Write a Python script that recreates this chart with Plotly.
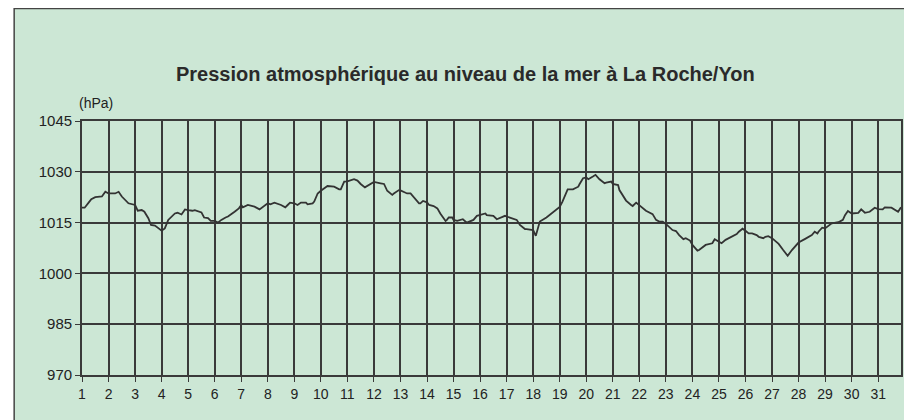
import plotly.graph_objects as go

# ---- data ----
days = [
    1.00, 1.10, 1.25, 1.35, 1.50, 1.72, 1.75, 1.88, 2.00, 2.25, 2.38, 2.50, 2.72, 2.75,
    3.00, 3.10, 3.25, 3.35, 3.50, 3.60, 3.75, 3.91, 4.00, 4.12, 4.25, 4.50, 4.60, 4.75, 4.88,
    5.00, 5.16, 5.25, 5.41, 5.50, 5.60, 5.75, 5.85, 6.00, 6.12, 6.25, 6.41, 6.50, 6.75, 6.91,
    7.00, 7.06, 7.25, 7.50, 7.69, 7.75, 8.00, 8.10, 8.25, 8.50, 8.66, 8.75, 8.84,
    9.00, 9.12, 9.25, 9.44, 9.50, 9.69, 9.75, 9.88, 10.00, 10.25, 10.50, 10.69, 10.75, 10.88,
    11.00, 11.25, 11.38, 11.50, 11.66, 11.75, 11.94, 12.00, 12.25, 12.38, 12.50, 12.69, 12.75, 12.94,
    13.00, 13.10, 13.25, 13.38, 13.50, 13.70, 13.75, 13.85, 14.00, 14.08, 14.25, 14.39, 14.50, 14.70,
    14.75, 14.82, 14.95, 15.00, 15.14, 15.25, 15.35, 15.50, 15.63, 15.75, 15.88, 16.00, 16.20, 16.25,
    16.50, 16.63, 16.75, 16.94, 17.00, 17.25, 17.38, 17.50, 17.69, 17.75, 17.95, 18.00, 18.10, 18.25,
    18.50, 18.75, 18.92, 19.00, 19.10, 19.30, 19.50, 19.70, 19.75, 19.88, 20.00, 20.08, 20.25, 20.35,
    20.50, 20.69, 20.75, 20.94, 21.00, 21.20, 21.25, 21.50, 21.69, 21.75, 21.88, 22.00, 22.25, 22.50,
    22.63, 22.75, 22.88, 23.00, 23.25, 23.38, 23.50, 23.66, 23.75, 23.91, 24.00, 24.19, 24.25, 24.50,
    24.75, 24.84, 25.00, 25.10, 25.25, 25.50, 25.67, 25.75, 25.89, 26.00, 26.12, 26.25, 26.42, 26.50,
    26.67, 26.75, 26.86, 27.00, 27.25, 27.42, 27.50, 27.59, 27.75, 28.00, 28.25, 28.50, 28.61, 28.71,
    28.75, 28.89, 29.00, 29.25, 29.50, 29.67, 29.75, 29.86, 30.00, 30.25, 30.36, 30.50, 30.68, 30.87,
    31.00, 31.17, 31.25, 31.50, 31.75, 31.86,
]
pressure = [
    1019.4, 1019.4, 1020.9, 1021.9, 1022.5, 1022.5, 1022.7, 1024.1, 1023.6, 1023.6, 1024.1, 1022.7, 1020.9, 1020.7,
    1020.2, 1018.5, 1018.7, 1018.2, 1016.3, 1014.3, 1014.1, 1013.3, 1012.6, 1013.3, 1015.8, 1017.7, 1017.9, 1017.4, 1018.9,
    1018.7, 1018.5, 1018.7, 1018.2, 1018.0, 1016.5, 1016.3, 1015.5, 1015.5, 1015.0, 1015.8, 1016.5, 1016.8, 1018.2, 1019.2,
    1020.2, 1019.5, 1020.2, 1019.7, 1018.9, 1019.2, 1020.7, 1020.4, 1020.9, 1020.2, 1019.5, 1020.2, 1020.9,
    1020.7, 1020.2, 1020.9, 1020.9, 1020.4, 1020.7, 1021.2, 1023.6, 1024.4, 1025.8, 1025.6, 1024.8, 1024.8, 1027.1,
    1027.2, 1027.8, 1027.4, 1026.4, 1025.4, 1025.8, 1026.9, 1027.0, 1026.6, 1026.4, 1024.4, 1023.2, 1023.6, 1024.6,
    1024.5, 1024.1, 1023.6, 1023.6, 1022.5, 1020.7, 1020.7, 1021.4, 1021.0, 1020.2, 1019.9, 1019.2, 1017.7, 1015.5,
    1015.8, 1016.5, 1016.5, 1015.8, 1015.5, 1015.8, 1016.0, 1015.0, 1015.3, 1015.8, 1017.0, 1017.2, 1017.7, 1017.2,
    1017.0, 1016.0, 1016.3, 1017.0, 1016.8, 1016.0, 1015.8, 1014.3, 1013.1, 1013.1, 1013.0, 1012.8, 1011.1, 1015.3,
    1016.5, 1018.0, 1019.2, 1019.6, 1021.1, 1024.8, 1024.8, 1025.6, 1026.4, 1028.1, 1028.3, 1027.8, 1028.6, 1029.1,
    1027.8, 1026.6, 1026.8, 1027.1, 1026.4, 1026.1, 1024.6, 1021.5, 1020.2, 1019.9, 1020.9, 1020.2, 1018.5, 1017.5,
    1015.8, 1015.3, 1015.3, 1014.6, 1012.8, 1012.5, 1011.3, 1010.1, 1010.4, 1009.7, 1008.4, 1006.7, 1006.9, 1008.4,
    1008.9, 1010.1, 1009.4, 1008.9, 1009.9, 1010.8, 1011.6, 1012.3, 1013.2, 1012.6, 1011.8, 1011.8, 1011.3, 1010.8,
    1010.4, 1010.8, 1011.0, 1010.4, 1008.7, 1006.9, 1006.1, 1005.2, 1006.9, 1009.1, 1010.2, 1011.3, 1012.3, 1011.8,
    1012.3, 1013.5, 1013.3, 1014.8, 1015.1, 1015.8, 1017.2, 1018.4, 1017.7, 1017.9, 1018.9, 1017.9, 1018.2, 1019.4,
    1019.0, 1018.9, 1019.5, 1019.4, 1018.2, 1019.5,
]
day_ticks = list(range(1, 32))
y_ticks = [970, 985, 1000, 1015, 1030, 1045]

title_text = "Pression atmosphérique au niveau de la mer à La Roche/Yon"
unit_text = "(hPa)"

# ---- layout geometry ----
# page coordinates of the reference; the HTML body adds an 8 px margin,
# so the figure itself is drawn 8 px smaller and shifted.
OFF = 8
W, H = 912 - OFF, 420 - OFF
L, R, T, B = 82 - OFF, 903 - OFF, 121 - OFF, 375 - OFF
pw, ph = R - L, B - T


def px_x(x):  # page x -> paper
    return (x - OFF - L) / pw


def px_y(y):  # page y -> paper
    return (B - (y - OFF)) / ph


FONT = "Liberation Sans, Arial, Helvetica, sans-serif"
DARK = "#3a3a3a"
GREEN = "#cce7d5"

fig = go.Figure()
fig.add_trace(go.Scatter(
    x=days, y=pressure, mode="lines",
    line=dict(color="#333333", width=1.8),
    hoverinfo="skip", showlegend=False,
))

fig.update_layout(
    width=W, height=H,
    margin=dict(l=L, r=W - R, t=T, b=H - B, pad=0),
    paper_bgcolor="white",
    plot_bgcolor="rgba(0,0,0,0)",
    showlegend=False,
    font=dict(family=FONT, color="#222222"),
)

fig.update_xaxes(
    range=[1, 31.86], tickmode="array", tickvals=day_ticks,
    ticktext=[str(d) for d in day_ticks],
    showgrid=True, gridcolor=DARK, gridwidth=1.5,
    showline=True, linecolor=DARK, linewidth=1.8, mirror=True,
    ticks="outside", ticklen=5, tickcolor=DARK, tickwidth=1.2,
    tickfont=dict(size=14, family=FONT, color="#222222"),
    zeroline=False, fixedrange=True,
)
fig.update_yaxes(
    range=[970, 1045], tickmode="array", tickvals=y_ticks,
    ticktext=[str(v) for v in y_ticks],
    showgrid=True, gridcolor=DARK, gridwidth=1.5,
    showline=True, linecolor=DARK, linewidth=1.8, mirror=True,
    ticks="outside", ticklen=5, tickcolor=DARK, tickwidth=1.2,
    tickfont=dict(size=15, family=FONT, color="#222222"),
    zeroline=False, fixedrange=True,
)

# green framed background
fig.add_shape(
    type="rect", xref="paper", yref="paper", layer="below",
    x0=px_x(14), x1=px_x(907), y0=px_y(430), y1=px_y(8.5),
    fillcolor=GREEN, line=dict(color="#444444", width=1.5),
)

fig.add_annotation(
    text="<b>" + title_text + "</b>", xref="paper", yref="paper",
    x=px_x(466), y=px_y(74), xanchor="center", yanchor="middle",
    showarrow=False, font=dict(size=20, family=FONT, color="#2a2a2a"),
)
fig.add_annotation(
    text=unit_text, xref="paper", yref="paper",
    x=px_x(77), y=px_y(103), xanchor="left", yanchor="middle",
    showarrow=False, font=dict(size=14, family=FONT, color="#222222"),
)

fig.write_html("out.html")
